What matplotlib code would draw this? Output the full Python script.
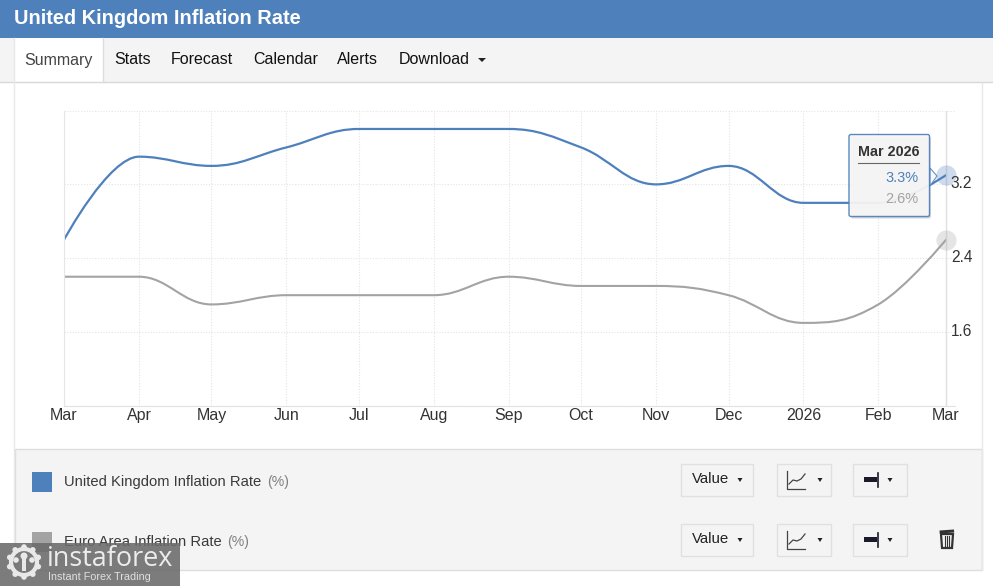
import numpy as np
import matplotlib
matplotlib.use('Agg')
import matplotlib.pyplot as plt
from matplotlib.path import Path
from matplotlib.patches import PathPatch, Rectangle, Circle, Polygon, FancyBboxPatch

plt.rcParams['font.family'] = ['Liberation Sans', 'DejaVu Sans']

W, H = 993, 586
PX = 0.72  # css px to pt at dpi 100

month_labels = ['Mar', 'Apr', 'May', 'Jun', 'Jul', 'Aug', 'Sep', 'Oct', 'Nov', 'Dec', '2026', 'Feb', 'Mar']
month_days = [0, 31, 61, 92, 122, 153, 184, 214, 245, 275, 306, 337, 365]
uk_rate = [2.6, 3.5, 3.4, 3.6, 3.8, 3.8, 3.8, 3.6, 3.2, 3.4, 3.0, 3.0, 3.3]
euro_rate = [2.2, 2.2, 1.9, 2.0, 2.0, 2.0, 2.2, 2.1, 2.1, 2.0, 1.7, 1.9, 2.6]
y_ticks = [1.6, 2.4, 3.2]

BLUE = '#4e80bc'
GREY = '#a3a3a3'
PANEL = '#f4f4f4'
EDGE = '#dedede'


def spline_path(xs, ys, smooth=1.5):
    # same control point rule as the web chart's spline
    n = len(xs)
    left = [None] * n
    right = [None] * n
    for i in range(1, n - 1):
        x, y = xs[i], ys[i]
        lx = (smooth * x + xs[i - 1]) / (smooth + 1)
        ly = (smooth * y + ys[i - 1]) / (smooth + 1)
        rx = (smooth * x + xs[i + 1]) / (smooth + 1)
        ry = (smooth * y + ys[i + 1]) / (smooth + 1)
        corr = (ry - ly) * (rx - x) / (rx - lx) + y - ry
        ly += corr
        ry += corr
        lo, hi = min(ys[i - 1], y), max(ys[i - 1], y)
        if ly > hi or ly < lo:
            ly = hi if ly > hi else lo
            ry = 2 * y - ly
        lo, hi = min(ys[i + 1], y), max(ys[i + 1], y)
        if ry > hi or ry < lo:
            ry = hi if ry > hi else lo
            ly = 2 * y - ry
        left[i] = (lx, ly)
        right[i] = (rx, ry)
    right[0] = (xs[0], ys[0])
    left[n - 1] = (xs[n - 1], ys[n - 1])
    verts = [(xs[0], ys[0])]
    codes = [Path.MOVETO]
    for i in range(1, n):
        verts += [right[i - 1], left[i], (xs[i], ys[i])]
        codes += [Path.CURVE4] * 3
    return Path(verts, codes)


fig = plt.figure(figsize=(W / 100, H / 100), dpi=100, facecolor='white')

# page furniture in pixel coordinates
bg = fig.add_axes([0, 0, 1, 1], zorder=0)
bg.set_xlim(0, W)
bg.set_ylim(H, 0)
bg.axis('off')

bg.add_patch(Rectangle((0, 0), W, 37.5, fc=BLUE, ec='none'))
bg.text(14, 18.5, 'United Kingdom Inflation Rate', color='white', fontsize=20 * PX,
        fontweight='bold', va='center')
bg.add_patch(Rectangle((0, 37.5), W, 45, fc=PANEL, ec='none'))
bg.plot([0, W], [82, 82], color='#d8d8d8', lw=1)
bg.add_patch(Rectangle((14, 38), 89, 45, fc='white', ec='none'))
bg.plot([14, 14], [38, 570], color='#e8e8e8', lw=1)
bg.plot([103, 103], [38, 82], color='#dddddd', lw=1)
bg.plot([982, 982], [83, 570], color='#e8e8e8', lw=1)

nav_items = [('Summary', 24, '#444444'), ('Stats', 114, '#111111'), ('Forecast', 171, '#111111'),
             ('Calendar', 253, '#111111'), ('Alerts', 337, '#111111'), ('Download', 399, '#111111')]
for label, x, col in nav_items:
    bg.text(x, 60, label, color=col, fontsize=16 * PX, va='center')
bg.add_patch(Polygon([(478, 58), (486, 58), (482, 62)], fc='#222222', ec='none'))

bg.add_patch(Rectangle((15, 449), 967, 121, fc=PANEL, ec=EDGE, lw=1))
bg.add_patch(Rectangle((32, 472), 20, 20, fc=BLUE, ec='none'))
bg.add_patch(Rectangle((32, 532), 20, 20, fc=GREY, ec='none'))
rows = [(482, 'United Kingdom Inflation Rate', 267), (542, 'Euro Area Inflation Rate', 227)]
for y, label, unit_x in rows:
    bg.text(64, y, label, color='#3a3a3a', fontsize=14.8 * PX, va='center')
    bg.text(unit_x, y, '(%)', color='#808080', fontsize=14 * PX, va='center')

for y0 in (464, 524):
    for x0, w in ((681, 72), (777, 54), (853, 54)):
        bg.add_patch(Rectangle((x0, y0), w, 32, fc=PANEL, ec='#e0e0e0', lw=1))
    mid = y0 + 15
    bg.text(692, mid, 'Value', color='#222222', fontsize=15 * PX, va='center')
    for tx in (740, 820, 890):
        bg.add_patch(Polygon([(tx - 2.5, mid - 1), (tx + 2.5, mid - 1), (tx, mid + 3)], fc='#222222', ec='none'))
    # line style icon
    bg.plot([787, 787, 805], [y0 + 7, y0 + 25, y0 + 25], color='#444444', lw=0.9)
    bg.plot([789, 793, 797, 801, 805], [y0 + 20, y0 + 16, y0 + 17, y0 + 15, y0 + 10], color='#444444', lw=0.9)
    # width icon
    bg.add_patch(Rectangle((864, mid - 2), 13, 5, fc='#1a1a2a', ec='none'))
    bg.plot([878, 878], [mid - 6, mid + 8], color='#1a1a2a', lw=1.2)

# trash icon
bg.add_patch(Polygon([(941, 534), (953, 534), (952, 548), (942, 548)], fc='none', ec='#333333', lw=1.6))
bg.add_patch(Rectangle((939.5, 530.5), 14.5, 3, fc='#333333', ec='none', angle=-4))
for tx in (945, 947, 949):
    bg.plot([tx, tx], [536, 546], color='#333333', lw=0.8)

# chart, x axis runs a little past the last month like the original
ax = fig.add_axes([64 / W, 1 - 406 / H, (955 - 64) / W, (406 - 110.5) / H], zorder=1)
ax.patch.set_alpha(0)
ax.set_xlim(0, 365 * (955 - 64) / (946 - 64))
ax.set_ylim(0.8, 4.0)
for s in ax.spines.values():
    s.set_visible(False)
ax.spines['bottom'].set_visible(True)
ax.spines['bottom'].set_color('#e2e2e2')
ax.spines['left'].set_visible(True)
ax.spines['left'].set_color('#e6e6e6')

ax.set_xticks(month_days)
ax.set_xticklabels(month_labels, fontsize=16 * PX, color='#333333')
ax.set_yticks([0.8] + y_ticks + [4.0])
ax.set_yticklabels([])
ax.tick_params(length=0, pad=1.5)
ax.grid(True, color='#e4e4e4', lw=0.8, ls=(0, (1, 1.5)))
ax.axvline(month_days[-1], color='#e0e0e0', lw=1)
ax.set_axisbelow(True)

for v in y_ticks:
    ax.annotate(f'{v:.1f}', (month_days[-1], v), xytext=(3.5, 0.5), textcoords='offset points',
                fontsize=15.5 * PX, color='#333333', va='center', ha='left', annotation_clip=False)

ax.add_patch(PathPatch(spline_path(month_days, euro_rate), fc='none', ec=GREY, lw=1.5, capstyle='round'))
ax.add_patch(PathPatch(spline_path(month_days, uk_rate), fc='none', ec=BLUE, lw=1.6, capstyle='round'))
ax.plot(month_days[-1], uk_rate[-1], 'o', ms=14.5, mfc=BLUE, mec='none', alpha=0.28, clip_on=False)
ax.plot(month_days[-1], euro_rate[-1], 'o', ms=14.5, mfc=GREY, mec='none', alpha=0.28, clip_on=False)

# tooltip and watermark on top
top = fig.add_axes([0, 0, 1, 1], zorder=2)
top.set_xlim(0, W)
top.set_ylim(H, 0)
top.axis('off')
top.patch.set_alpha(0)

top.add_patch(FancyBboxPatch((851, 136.5), 80, 82, boxstyle='round,pad=0,rounding_size=2',
                             fc='#777777', ec='none', alpha=0.3))
top.add_patch(Polygon([(930, 168), (937, 176), (930, 186)], fc='#f7f7f7', ec=BLUE, lw=0.8, alpha=0.85))
top.add_patch(FancyBboxPatch((849, 134.5), 80.5, 82, boxstyle='round,pad=0,rounding_size=2',
                             fc='#f7f7f7', ec=BLUE, lw=1, alpha=0.93))
top.text(888.5, 152.5, 'Mar 2026', color='#333333', fontsize=14.3 * PX, fontweight='bold', ha='center', va='center')
top.plot([858, 919], [162.5, 162.5], color='#666666', lw=0.8)
top.text(918.5, 178, '3.3%', color=BLUE, fontsize=14.5 * PX, ha='right', va='center')
top.text(918.5, 199, '2.6%', color=GREY, fontsize=14.5 * PX, ha='right', va='center')

top.add_patch(Rectangle((0, 543), 180, 43, fc='#6a6a6a', ec='none', alpha=0.88))
gear_c = (24, 562)
for ang in np.arange(0, 360, 36):
    ca, sa = np.cos(np.radians(ang)), np.sin(np.radians(ang))
    cx, cy = gear_c[0] + 15 * sa, gear_c[1] - 15 * ca
    top.add_patch(Circle((cx, cy), 2.8, fc='#e8e8e8', ec='none'))
top.add_patch(Circle(gear_c, 13, fc='none', ec='#e8e8e8', lw=3))
top.add_patch(Circle((24, 556), 3.5, fc='#e8e8e8', ec='none'))
top.add_patch(Rectangle((22, 558), 4, 13, fc='#e8e8e8', ec='none'))
top.add_patch(Circle((16, 560), 2.8, fc='#e8e8e8', ec='none'))
top.add_patch(Circle((32, 560), 2.8, fc='#e8e8e8', ec='none'))
top.text(47, 559, 'instaforex', color='#ececec', fontsize=27 * PX, va='center', family=['Open Sans', 'DejaVu Sans'])
top.text(48, 577, 'Instant Forex Trading', color='#e0e0e0', fontsize=10.7 * PX, va='center')

fig.savefig('out.png', dpi=100)
plt.close(fig)
